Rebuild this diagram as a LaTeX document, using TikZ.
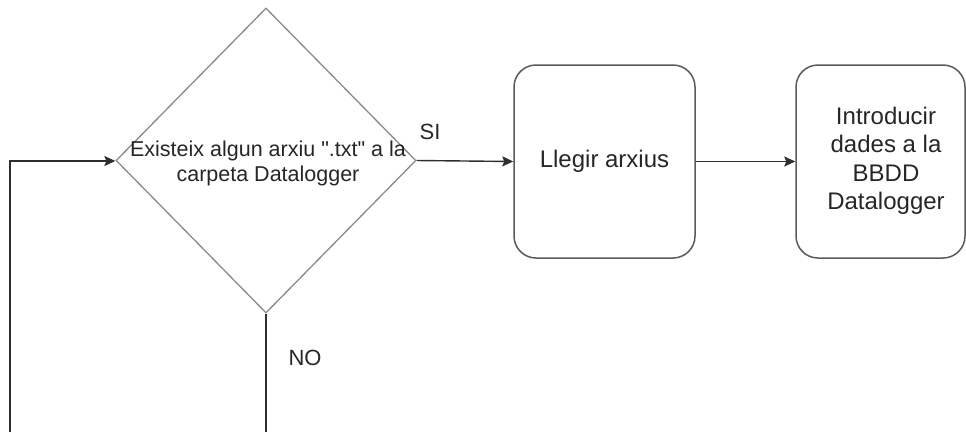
\documentclass[tikz,border=0pt]{standalone}
\usepackage{fontspec}
\setmainfont{Liberation Sans}[Ligatures=TeXOff]
\usetikzlibrary{shapes.geometric,arrows.meta}
\definecolor{txt}{HTML}{262626}
\definecolor{dstroke}{HTML}{8A8A8A}
\definecolor{bstroke}{HTML}{5A5A5A}
\definecolor{lstroke}{HTML}{2E2E2E}
\begin{document}
\begin{tikzpicture}[x=1pt,y=-1pt,
  boxstyle/.style={draw=bstroke,line width=1.5pt,rounded corners=22pt,inner sep=0pt,
    text=txt,font=\fontsize{24}{28}\selectfont,align=center},
  decstyle/.style={draw=dstroke,line width=1.3pt,diamond,inner sep=0pt,aspect=0.98},
  conn/.style={draw=lstroke,line width=1.4pt},
  arr/.style={conn,-{Stealth[length=11pt,width=10pt,inset=2pt]}},
  lbl/.style={text=txt,font=\fontsize{22}{26}\selectfont,inner sep=0pt}]
\useasboundingbox (0,0) rectangle (966,432);
\node[decstyle,minimum width=300pt,minimum height=305pt] (dec) at (266,160.5) {};
\node[text=txt,font=\fontsize{21.5}{25}\selectfont,align=center,inner sep=0pt] (dectext) at (268,163)
  {Existeix algun arxiu ".txt" a la\\carpeta Datalogger};
\node[boxstyle,minimum width=181pt,minimum height=193pt] (read) at (604.5,161.5) {Llegir arxius};
\node[boxstyle,minimum width=169pt,minimum height=193pt] (db) at (880.5,161.5) {};
\node[text=txt,font=\fontsize{24}{28.5}\selectfont,align=center,inner sep=0pt] (dbtext) at (886,161)
  {Introducir\\dades a la\\BBDD\\Datalogger};
\coordinate (loopbot) at (10,432);
\coordinate (loopcorner) at (10,161);
\coordinate (nobot) at (266,432);
\draw[arr] (loopbot) -- (loopcorner) -- (dec.west |- loopcorner);
\draw[arr] (dec.east) -- (read.west);
\draw[arr] (read.east) -- (db.west);
\draw[conn] (dec.south) -- (nobot);
\node[lbl] (si) at (430,132) {SI};
\node[lbl] (no) at (305,358) {NO};
\end{tikzpicture}
\end{document}
